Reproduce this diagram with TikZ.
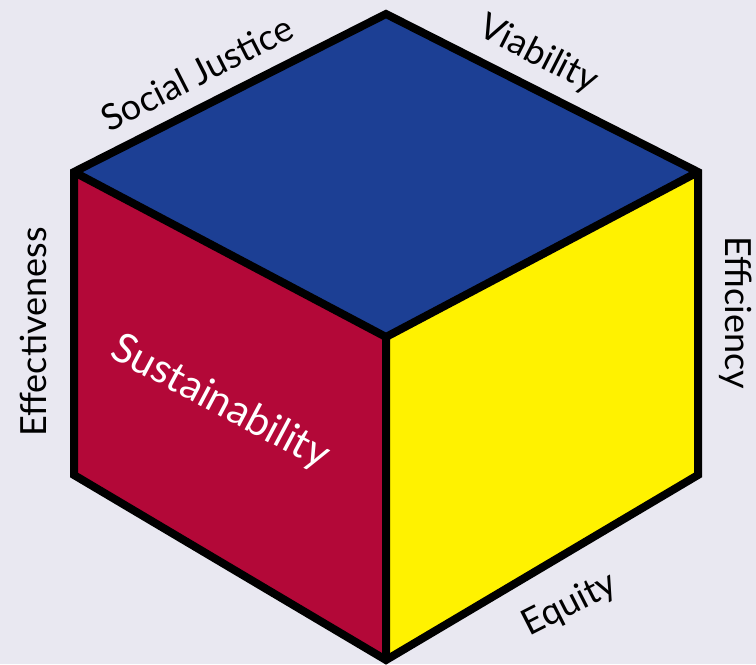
\documentclass[tikz,border=0pt]{standalone}
\usepackage{fontspec}
\setmainfont{Lato}
\usepackage{tikz}
\usetikzlibrary{calc}

\definecolor{bgcol}{HTML}{E9E8F1}
\definecolor{topblue}{HTML}{1C3F94}
\definecolor{facered}{HTML}{B30838}
\definecolor{faceyellow}{HTML}{FFF200}

\tikzset{
  edge/.style={draw=black, line width=6pt, line join=miter},
  lbl/.style={font=\fontsize{27}{32}\selectfont, text=black, inner sep=0pt}
}

\begin{document}
\begin{tikzpicture}[x=0.75pt, y=0.75pt]
\fill[bgcol] (0,0) rectangle (756,664);
\useasboundingbox (0,0) rectangle (756,664);
% cube corners
\coordinate (T) at (386,650);
\coordinate (LT) at (74,492);
\coordinate (RT) at (698,492);
\coordinate (C) at (386,327);
\coordinate (LB) at (74,189);
\coordinate (RB) at (698,189);
\coordinate (B) at (386,4);
% faces
\fill[topblue] (LT) -- (T) -- (RT) -- (C) -- cycle;
\fill[facered] (LT) -- (C) -- (B) -- (LB) -- cycle;
\fill[faceyellow] (C) -- (RT) -- (RB) -- (B) -- cycle;
% outline and inner edges
\draw[edge] (LT) -- (T) -- (RT) -- (RB) -- (B) -- (LB) -- cycle;
\draw[edge] (LT) -- (C) -- (RT) (C) -- (B);
% labels
\node[lbl, rotate=27] (soc) at (197,591) {Social Justice};
\node[lbl, rotate=-27] (via) at (538,609) {Viability};
\node[lbl, rotate=90] (eff) at (33,332) {Effectiveness};
\node[lbl, rotate=-90] (effi) at (736,351) {Efficiency};
\node[lbl, rotate=27] (equ) at (570,59) {Equity};
\node[lbl, rotate=-28, text=white, font=\fontsize{31}{36}\selectfont] (sus) at (220,261) {Sustainability};
\end{tikzpicture}
\end{document}
